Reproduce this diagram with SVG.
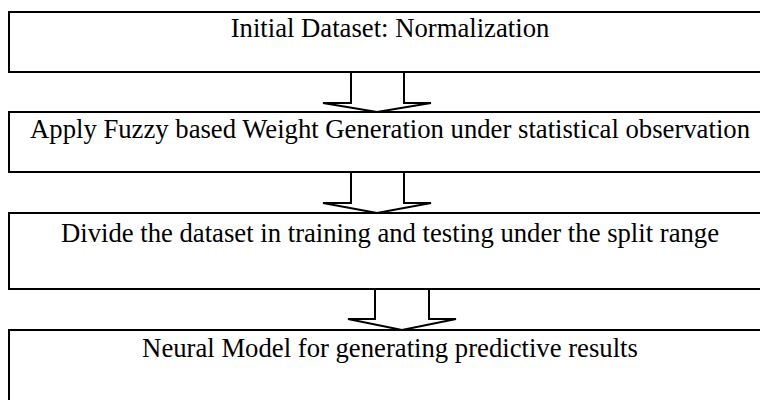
<svg xmlns="http://www.w3.org/2000/svg" width="760" height="400" viewBox="0 0 760 400">
<style>
.box{fill:#fff;stroke:#000;stroke-width:2}
.arr{fill:#fff;stroke:#000;stroke-width:2;stroke-linejoin:miter}
.lbl{font-family:"Liberation Serif","Times New Roman",serif;font-size:26.7px;fill:#000;text-anchor:middle}
</style>
<rect width="760" height="400" fill="#fff"/>
<g id="n1"><rect class="box" x="9" y="12" width="800" height="60"/><text class="lbl" x="390" y="37">Initial Dataset: Normalization</text></g>
<g id="n2"><rect class="box" x="9" y="112" width="800" height="60"/><text class="lbl" x="390" y="138">Apply Fuzzy based Weight Generation under statistical observation</text></g>
<g id="n3"><rect class="box" x="9" y="213" width="800" height="76"/><text class="lbl" x="390" y="241.5">Divide the dataset in training and testing under the split range</text></g>
<g id="n4"><rect class="box" x="9" y="330" width="800" height="100"/><text class="lbl" x="390" y="356.5">Neural Model for generating predictive results</text></g>
<g id="connectors">
<polygon class="arr" points="351,72 404,72 404,103 431,103 377,112 323,103 351,103"/>
<polygon class="arr" points="351,172 404,172 404,203 431,203 377,213 323,203 351,203"/>
<polygon class="arr" points="375,289 429,289 429,319 456,319 402,330 348,319 375,319"/>
</g>
</svg>
